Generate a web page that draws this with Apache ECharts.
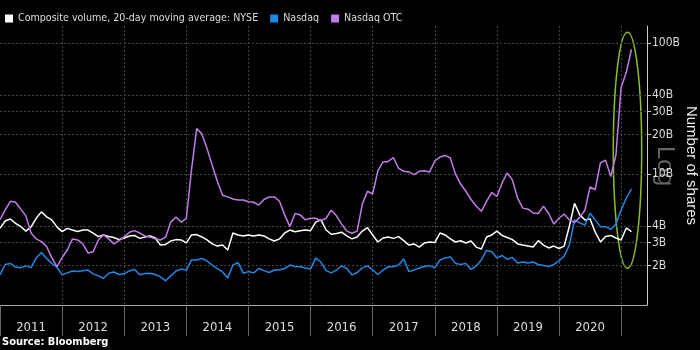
<!DOCTYPE html>
<html>
<head>
<meta charset="utf-8">
<script src="https://cdn.jsdelivr.net/npm/echarts@6/dist/echarts.min.js"></script>
<style>
  html, body { margin: 0; padding: 0; background: #000; }
  #chart { width: 700px; height: 350px; }
</style>
</head>
<body>
<div id="chart"></div>
<script>
// monthly points, Jan 2011 .. Mar 2021 (billions of shares, 20-day avg)
const years = ['2011', '2012', '2013', '2014', '2015', '2016', '2017', '2018', '2019', '2020'];

const nyse = [
    3.86, 4.38, 4.54, 4.2, 3.98, 3.67, 3.95, 4.6, 5.15, 4.72, 4.47, 3.95,
    3.64, 3.85, 3.74, 3.64, 3.74, 3.74, 3.54, 3.33, 3.43, 3.34, 3.28, 3.16,
    3.25, 3.37, 3.4, 3.23, 3.31, 3.37, 3.25, 2.87, 2.9, 3.08, 3.16, 3.14,
    2.98, 3.43, 3.45, 3.31, 3.14, 2.93, 2.82, 2.87, 2.63, 3.55, 3.43, 3.37,
    3.43, 3.37, 3.43, 3.37, 3.2, 3.08, 3.2, 3.55, 3.74, 3.63, 3.7, 3.74,
    3.7, 4.3, 4.47, 3.74, 3.47, 3.52, 3.6, 3.37, 3.2, 3.31, 3.67, 3.9,
    3.43, 3.03, 3.25, 3.31, 3.23, 3.33, 3.1, 2.87, 2.93, 2.77, 2.98, 3.03,
    3.0, 3.55, 3.43, 3.2, 3.03, 3.1, 2.98, 3.08, 2.77, 2.68, 3.31, 3.43,
    3.67, 3.4, 3.28, 3.16, 2.93, 2.87, 2.82, 2.77, 3.1, 2.87, 2.73, 2.82,
    2.7, 2.82, 4.0, 5.98, 4.88, 4.47, 4.55, 3.6, 3.03, 3.34, 3.4, 3.25,
    3.14, 3.88, 3.64
];

const nasdaq = [
    1.70, 2.04, 2.08, 1.95, 1.93, 1.99, 1.93, 2.29, 2.52, 2.27, 2.08, 1.95,
    1.70, 1.76, 1.82, 1.80, 1.83, 1.85, 1.73, 1.67, 1.60, 1.75, 1.79, 1.71,
    1.73, 1.82, 1.87, 1.70, 1.74, 1.75, 1.71, 1.64, 1.53, 1.67, 1.82, 1.88,
    1.85, 2.21, 2.21, 2.27, 2.17, 2.02, 1.90, 1.79, 1.61, 2.02, 2.11, 1.75,
    1.80, 1.76, 1.90, 1.83, 1.77, 1.85, 1.85, 1.90, 2.02, 1.97, 1.96, 1.92,
    1.88, 2.29, 2.13, 1.83, 1.76, 1.85, 1.99, 1.90, 1.70, 1.77, 1.92, 1.99,
    1.85, 1.71, 1.85, 1.96, 1.96, 2.02, 2.25, 1.80, 1.85, 1.92, 1.97, 2.0,
    1.92, 2.21, 2.29, 2.33, 2.08, 2.04, 2.08, 1.87, 1.99, 2.21, 2.61, 2.55,
    2.29, 2.39, 2.23, 2.31, 2.09, 2.13, 2.09, 2.13, 2.04, 2.0, 1.97, 2.04,
    2.17, 2.37, 2.87, 4.47, 4.24, 4.09, 5.03, 4.47, 3.97, 3.97, 3.78, 4.15,
    5.32, 6.56, 7.7
];

const nasdaqOtc = [
    4.5, 5.3, 6.2, 6.1, 5.4, 4.8, 3.55, 3.2, 3.05, 2.8, 2.3, 1.96,
    2.3, 2.63, 3.2, 3.14, 2.93, 2.5, 2.55, 3.14, 3.43, 3.2, 2.93, 3.1,
    3.31, 3.6, 3.7, 3.55, 3.37, 3.3, 3.2, 3.14, 3.3, 4.3, 4.7, 4.3,
    4.6, 10.8, 22.3, 20.3, 15.7, 11.7, 8.8, 6.9, 6.7, 6.45, 6.35, 6.35,
    6.15, 6.1, 5.8, 6.4, 6.7, 6.7, 6.2, 4.88, 3.97, 5.0, 4.88, 4.47,
    4.6, 4.6, 4.4, 4.6, 5.3, 4.8, 4.15, 3.67, 3.53, 3.67, 5.9, 7.4,
    7.05, 10.6, 12.4, 12.5, 13.4, 11.1, 10.5, 10.4, 9.9, 10.5, 10.6, 10.4,
    12.6, 13.5, 13.9, 13.3, 10.0, 8.4, 7.4, 6.4, 5.7, 5.2, 6.2, 7.25,
    6.75, 8.57, 10.2, 9.0, 6.55, 5.5, 5.4, 5.05, 5.0, 5.7, 5.0, 4.15,
    4.6, 4.96, 4.47, 4.27, 4.67, 5.3, 8.0, 7.6, 12.2, 12.8, 9.6, 14,
    46, 60, 90
];

const yTicks = [2, 3, 4, 10, 20, 30, 40, 100];

// month categories Jan 2011 .. Jun 2021
const months = [];
for (let y = 2011; y <= 2021; y++) {
    for (let m = 1; m <= 12; m++) {
        if (y === 2021 && m > 6) break;
        months.push(y + '-' + (m < 10 ? '0' + m : m));
    }
}

const font = "'DejaVu Sans Condensed', 'Liberation Sans Narrow', sans-serif";
const chart = echarts.init(document.getElementById('chart'));

const option = {
    backgroundColor: '#000',
    animation: false,
    legend: {
        left: 0,
        top: 8,
        icon: 'rect',
        itemWidth: 8,
        itemHeight: 8,
        itemGap: 12,
        itemStyle: { borderWidth: 0 },
        textStyle: { color: '#ddd', fontSize: 10.6, fontFamily: font },
        data: ['Composite volume, 20-day moving average: NYSE', 'Nasdaq', 'Nasdaq OTC']
    },
    grid: { left: 0, right: 53, top: 26, bottom: 45, outerBoundsMode: 'none', containLabel: false },
    xAxis: {
        type: 'category',
        boundaryGap: false,
        data: months,
        axisLine: { lineStyle: { color: '#aaa', width: 1 } },
        axisTick: {
            interval: (i) => i % 12 === 0,
            length: 31,
            lineStyle: { color: '#666' }
        },
        axisLabel: {
            interval: (i) => i % 12 === 6,
            formatter: (v, i) => years[Math.floor(i / 12)] || '',
            margin: 16,
            color: '#ddd',
            fontSize: 13,
            fontFamily: font
        },
        splitLine: {
            show: true,
            interval: (i) => i % 12 === 0 && i > 0,
            lineStyle: { color: '#444', type: [2, 2] }
        }
    },
    yAxis: {
        type: 'log',
        logBase: 10,
        position: 'right',
        min: 1,
        max: 135.5,
        name: 'Number of shares',
        nameLocation: 'middle',
        nameRotate: -90,
        nameGap: 44,
        nameMoveOverlap: false,
        nameTextStyle: { color: '#eee', fontSize: 15, fontFamily: 'Liberation Sans', verticalAlign: 'middle' },
        axisLine: { show: true, lineStyle: { color: '#ccc' } },
        axisTick: { show: true, length: 4, customValues: yTicks, lineStyle: { color: '#ccc' } },
        axisLabel: {
            customValues: yTicks,
            formatter: (v) => Math.round(v) + 'B',
            margin: 5,
            color: '#ddd',
            fontSize: 12,
            fontFamily: font
        },
        splitLine: { show: true, lineStyle: { color: '#444', type: [2, 2] } }
    },
    graphic: [
        {
            type: 'text',
            x: 665,
            y: 166,
            rotation: -Math.PI / 2,
            style: {
                text: 'Log',
                fill: '#666',
                font: '24px "Liberation Sans", sans-serif',
                align: 'center',
                verticalAlign: 'middle'
            }
        },
        {
            type: 'ellipse',
            shape: { cx: 627.5, cy: 150.3, rx: 14.2, ry: 118 },
            style: { fill: null, stroke: '#8cc21e', lineWidth: 1.5 }
        },
        {
            type: 'text',
            left: 2,
            top: 337,
            style: {
                text: 'Source: Bloomberg',
                fill: '#fff',
                font: 'bold 11px "DejaVu Sans Condensed", sans-serif'
            }
        }
    ],
    series: [
        {
            name: 'Composite volume, 20-day moving average: NYSE',
            type: 'line',
            data: nyse,
            symbol: 'none',
            color: '#ffffff',
            lineStyle: { width: 1.5 }
        },
        {
            name: 'Nasdaq',
            type: 'line',
            data: nasdaq,
            symbol: 'none',
            color: '#1e88e5',
            lineStyle: { width: 1.5 }
        },
        {
            name: 'Nasdaq OTC',
            type: 'line',
            data: nasdaqOtc,
            symbol: 'none',
            color: '#c27be8',
            lineStyle: { width: 1.5 }
        }
    ]
};

chart.setOption(option);
</script>
</body>
</html>
